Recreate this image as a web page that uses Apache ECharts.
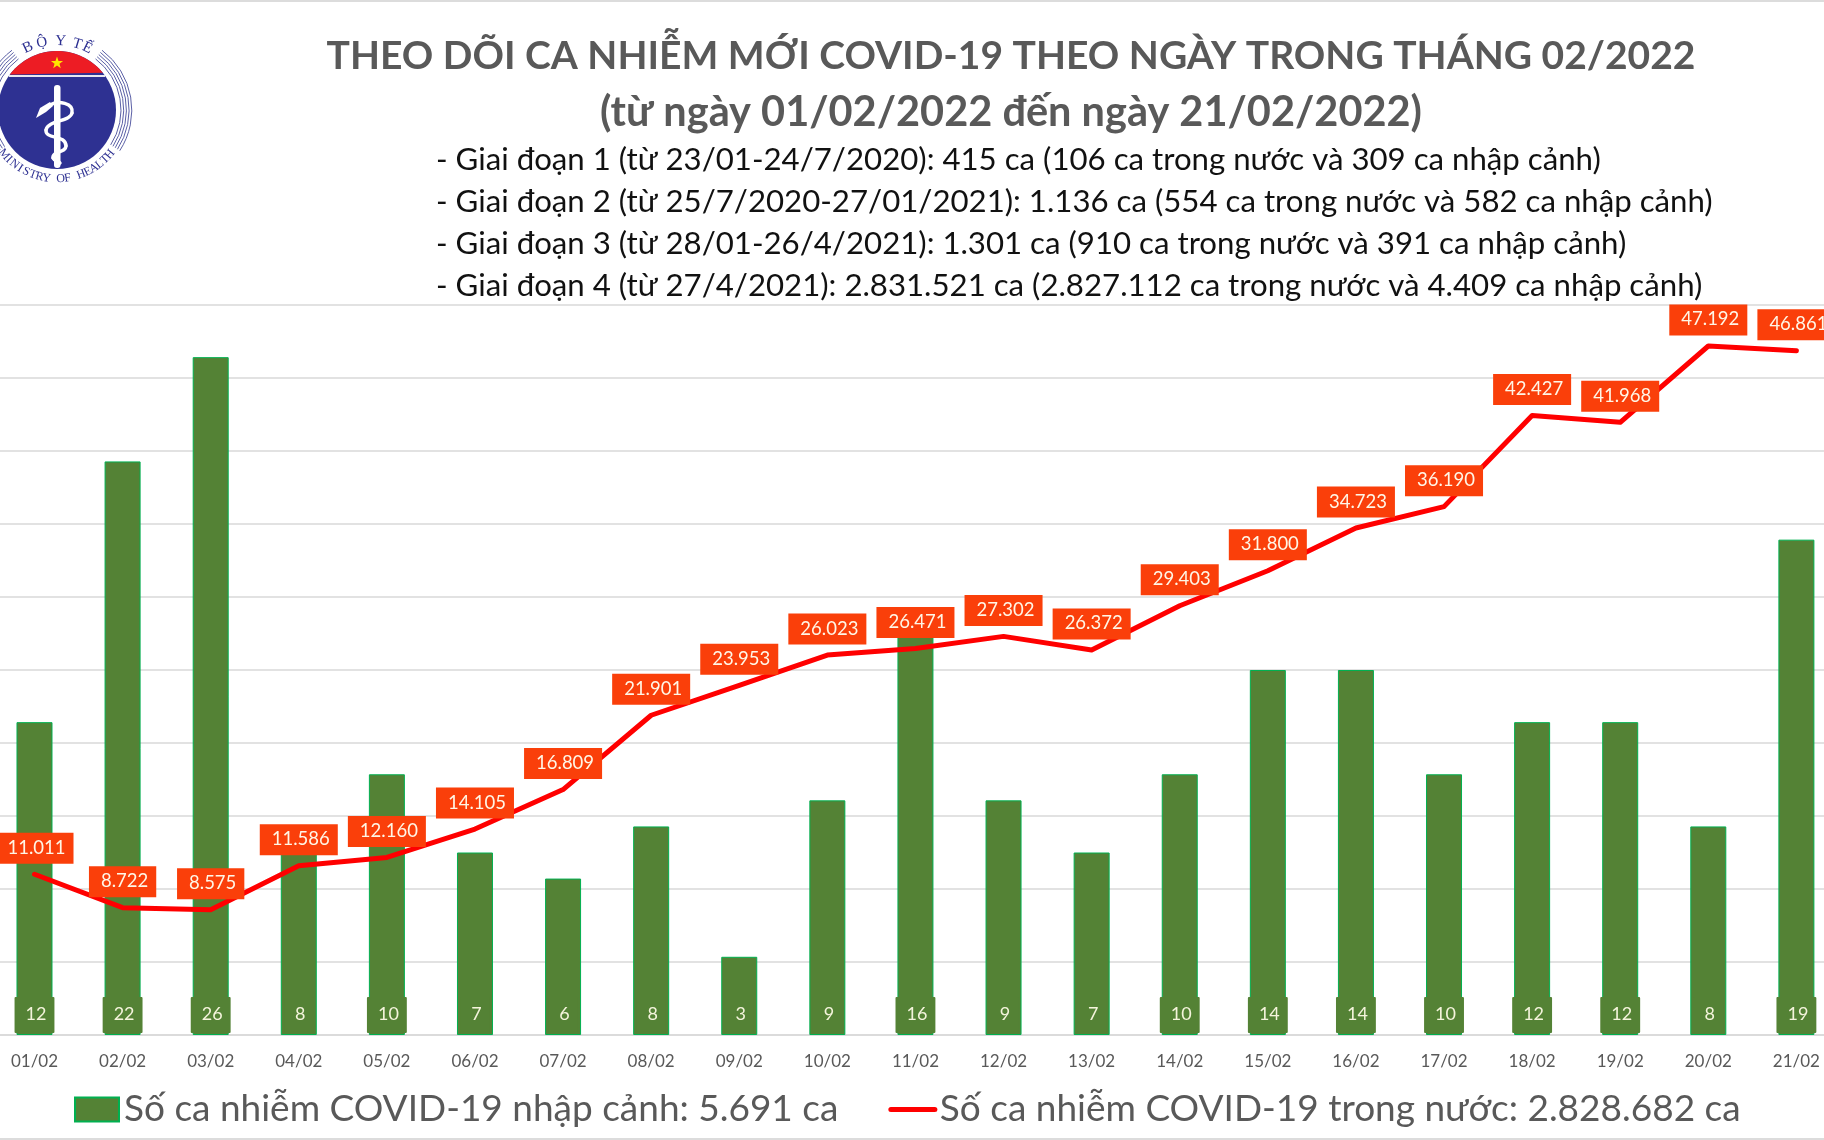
<!DOCTYPE html>
<html><head><meta charset="utf-8">
<style>html,body{margin:0;padding:0;background:#fff}#c{width:1824px;height:1140px}</style>
<script src="https://cdn.jsdelivr.net/npm/echarts@6/dist/echarts.min.js"></script>
</head><body><div id="c"></div>
<script>
const days = ['01/02','02/02','03/02','04/02','05/02','06/02','07/02','08/02','09/02','10/02','11/02','12/02','13/02','14/02','15/02','16/02','17/02','18/02','19/02','20/02','21/02'];
const imported = [12,22,26,8,10,7,6,8,3,9,16,9,7,10,14,14,10,12,12,8,19];
const domestic = [11011,8722,8575,11586,12160,14105,16809,21901,23953,26023,26471,27302,26372,29403,31800,34723,36190,42427,41968,47192,46861];
const titleLines = ['THEO DÕI CA NHIỄM MỚI COVID-19 THEO NGÀY TRONG THÁNG 02/2022','(từ ngày 01/02/2022 đến ngày 21/02/2022)'];
const noteLines = [
 '- Giai đoạn 1 (từ 23/01-24/7/2020): 415 ca (106 ca trong nước và 309 ca nhập cảnh)',
 '- Giai đoạn 2 (từ 25/7/2020-27/01/2021): 1.136 ca (554 ca trong nước và 582 ca nhập cảnh)',
 '- Giai đoạn 3 (từ 28/01-26/4/2021): 1.301 ca (910 ca trong nước và 391 ca nhập cảnh)',
 '- Giai đoạn 4 (từ 27/4/2021): 2.831.521 ca (2.827.112 ca trong nước và 4.409 ca nhập cảnh)'];
const importedName = 'Số ca nhiễm COVID-19 nhập cảnh: 5.691 ca';
const domesticName = 'Số ca nhiễm COVID-19 trong nước: 2.828.682 ca';
const FONT = 'Lato, "Open Sans", sans-serif';

const chart = echarts.init(document.getElementById('c'), null, {renderer:'canvas'});
const graphics = [];
graphics.push({type:'rect',shape:{x:0,y:0,width:1824,height:2},style:{fill:'#dcdcdc'},silent:true});
graphics.push({type:'rect',shape:{x:0,y:1138,width:1824,height:2},style:{fill:'#dcdcdc'},silent:true});
[39,41.5].forEach((size,i)=>graphics.push({type:'text',x:1011,y:56+i*57,style:{text:titleLines[i],font:'bold '+size+'px '+FONT,fill:'#595959',textAlign:'center',textVerticalAlign:'middle'},silent:true}));
noteLines.forEach((t,i)=>graphics.push({type:'text',x:436,y:160+i*42,style:{text:t,font:'31.2px '+FONT,fill:'#111',textAlign:'left',textVerticalAlign:'middle'},silent:true}));

// Ministry of Health emblem
const cx=57, cy=110, R=59, logoBlue='#2e3192', ring='#5b60a6';
const rad=d=>d*Math.PI/180;
[64,66.7,69.4,72.1,74.8].forEach(r=>{
  graphics.push({type:'arc',shape:{cx,cy,r,startAngle:rad(-53),endAngle:rad(33),clockwise:true},style:{stroke:ring,lineWidth:1,fill:null},silent:true});
  graphics.push({type:'arc',shape:{cx,cy,r,startAngle:rad(145),endAngle:rad(233),clockwise:true},style:{stroke:ring,lineWidth:1,fill:null},silent:true});
});
graphics.push({type:'circle',shape:{cx,cy,r:R},style:{fill:logoBlue},silent:true});
const capPts=[];
for(let a=-143;a<=-37;a+=4){capPts.push([cx+R*Math.cos(rad(a)),cy+R*Math.sin(rad(a))]);}
graphics.push({type:'polygon',shape:{points:capPts},style:{fill:'#ed1c24'},silent:true});
graphics.push({type:'rect',shape:{x:9,y:75,width:96,height:2},style:{fill:'#e8e8f0'},silent:true});
graphics.push({type:'polygon',shape:{points:[0,1,2,3,4,5,6,7,8,9].map(i=>{const a=rad(-90+i*36),r=i%2?2.6:6.4;return [57+r*Math.cos(a),63+r*Math.sin(a)];})},style:{fill:'#ffe500'},silent:true});
graphics.push({type:'rect',shape:{x:54,y:85,width:6.5,height:83,r:3},style:{fill:'#fff'},silent:true});
graphics.push({type:'polygon',shape:{points:[[36,118],[40,108],[50,102],[53,106],[46,112]]},style:{fill:'#fff'},silent:true});
[
 [50,105,58,100,74,103,72,113],
 [72,113,70,122,48,120,46,130],
 [46,130,45,140,66,134,66,146],
 [66,146,66,153,52,151,53,158],
 [53,158,54,161,58,160,60,163]
].forEach(b=>graphics.push({type:'bezierCurve',shape:{x1:b[0],y1:b[1],cpx1:b[2],cpy1:b[3],cpx2:b[4],cpy2:b[5],x2:b[6],y2:b[7]},style:{stroke:'#fff',lineWidth:3.4,fill:null,lineCap:'round'},silent:true}));
const topChars=[['B',-25],['Ộ',-12.6],['Y',3],['T',17],['Ế',26]];
topChars.forEach(([c,a])=>{const t=rad(a);graphics.push({type:'text',x:cx+69*Math.sin(t),y:cy-69*Math.cos(t),rotation:-t,style:{text:c,font:'15px "Liberation Serif", serif',fill:logoBlue,textAlign:'center',textVerticalAlign:'middle'},silent:true});});
const bottomText='MINISTRY OF HEALTH';
[...bottomText].forEach((c,i)=>{const a=50-i*100/(bottomText.length-1),t=rad(a);graphics.push({type:'text',x:cx-69*Math.sin(t),y:cy+69*Math.cos(t),rotation:-t,style:{text:c,font:'12px "Liberation Serif", serif',fill:logoBlue,textAlign:'center',textVerticalAlign:'middle'},silent:true});});

chart.setOption({
  animation:false,
  backgroundColor:'#fff',
  textStyle:{fontFamily:FONT},
  grid:{left:-9.55,width:1850,top:305,height:730,containLabel:false,outerBoundsMode:'none'},
  legend:{
    left:74, top:1091, padding:0, itemWidth:44, itemHeight:24, itemGap:50, selectedMode:false,
    textStyle:{fontSize:37,color:'#595959',fontFamily:FONT},
    data:[{name:importedName,icon:'rect'},
          {name:domesticName,itemStyle:{color:'rgba(0,0,0,0)',borderWidth:0},lineStyle:{width:5,cap:'round',color:'#ff0000'}}]
  },
  xAxis:{type:'category',data:days,
    axisLine:{show:true,lineStyle:{color:'#d9d9d9',width:1.5}},axisTick:{show:false},
    axisLabel:{interval:0,fontSize:17,color:'#595959',margin:18,fontFamily:FONT}},
  yAxis:[
    {type:'value',min:0,max:28,interval:2.8,show:true,axisLine:{show:false},axisTick:{show:false},axisLabel:{show:false},splitLine:{show:false}},
    {type:'value',min:0,max:50000,interval:5000,show:true,position:'right',axisLine:{show:false},axisTick:{show:false},axisLabel:{show:false},splitLine:{show:true,lineStyle:{color:'#d9d9d9',width:1.5}}}
  ],
  series:[
    {name:importedName,type:'bar',data:imported,yAxisIndex:0,barWidth:36,
     itemStyle:{color:'#548235',borderColor:'#00b050',borderWidth:1},
     label:{show:true,position:'insideBottom',distance:2,fontSize:18,color:'#f4f4dc',backgroundColor:'#548235',padding:[7,8,9,11],lineHeight:20,fontFamily:FONT,borderRadius:1}},
    {name:domesticName,type:'line',data:domestic,yAxisIndex:1,symbol:'circle',symbolSize:1,showSymbol:true,showAllSymbol:true,
     lineStyle:{color:'#ff0000',width:5,cap:'round',join:'round'},itemStyle:{color:'#ff0000'},z:5,
     label:{show:true,position:'top',distance:10,fontSize:18.5,color:'#fff6e6',backgroundColor:'#fa3f0a',padding:[5,8,6,12],lineHeight:20,fontFamily:FONT,
       formatter:p=>String(p.value).replace(/\B(?=(\d{3})+$)/g,'.')}}
  ],
  graphic:graphics
});
</script></body></html>
